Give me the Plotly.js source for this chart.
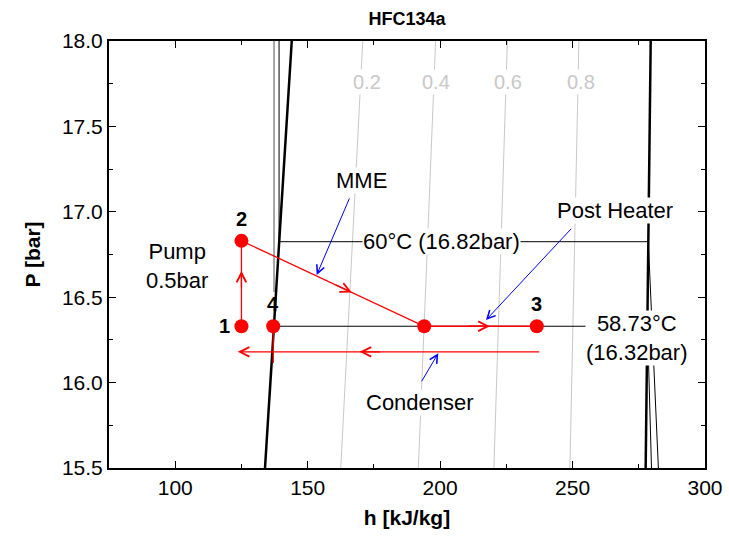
<!DOCTYPE html>
<html>
<head>
<meta charset="utf-8">
<script src="https://cdn.plot.ly/plotly-3.0.1.min.js"></script>
<style>html,body{margin:0;padding:0;background:#fff;}#chart{width:729px;height:544px;}</style>
</head>
<body>
<div id="chart"></div>
<script>
// ---- Data ----
// Saturation dome (h in kJ/kg, P in bar)
const satLiqH = [133.9, 144.0];
const satLiqP = [15.5, 18.0];
const satVapH = [277.6, 279.5];
const satVapP = [15.5, 18.0];

// Quality lines
const qualityLabels = ['0.2', '0.4', '0.6', '0.8'];
const qualityHBottom = [162.5, 191.8, 220.3, 249.0];
const qualityHTop = [170.8, 198.3, 225.4, 252.4];
const qualityLabelH = [172.4, 198.3, 225.6, 253.1];
const qualityLabelP = 17.76;

// Isotherms
const iso60LiqH = [139.2, 139.2];
const iso60LiqP = [18.0, 16.825];
const iso60H = [139.6, 278.6];
const iso60P = [16.825, 16.825];
const iso60VapH = [278.6, 282.4];
const iso60VapP = [16.825, 15.5];
const iso5873H = [137.0, 278.3];
const iso5873P = [16.33, 16.33];
const iso5873VapH = [278.3, 279.8];
const iso5873VapP = [16.33, 15.5];
const greyIsoH = [137.3, 137.3];
const greyIsoP = [18.0, 16.53];

// Cycle state points
const stateLabels = ['1', '2', '3', '4'];
const stateH = [125.0, 125.0, 236.5, 137.0];
const stateP = [16.33, 16.83, 16.33, 16.33];
const mmeOutH = [194.0];
const mmeOutP = [16.33];

// Cycle path (1 -> 2 -> MME outlet -> 3)
const pathH = [125.0, 125.0, 194.0, 236.5];
const pathP = [16.33, 16.83, 16.33, 16.33];
// state 4 drop line
const dropH = [137.0, 137.0];
const dropP = [16.33, 16.115];
// condenser return line
const condH = [238.0, 123.6];
const condP = [16.18, 16.18];

// direction chevrons: [tailH, tailP, tipH, tipP]
const chevrons = [
  [125.0, 16.55, 125.0, 16.655],
  [160.0, 16.576, 166.7, 16.528],
  [210.0, 16.33, 218.8, 16.33],
  [178.0, 16.18, 169.6, 16.18]
];

// Callout arrows: [tailH, tailP, tipH, tipP]
const callouts = [
  [166.0, 17.087, 153.4, 16.63],
  [250.0, 16.909, 217.3, 16.366],
  [192.7, 15.999, 199.3, 16.172]
];

// Text labels
const noteText = ['MME', 'Post Heater', 'Condenser', 'Pump<br>0.5bar', '60°C (16.82bar)', '58.73°C<br>(16.32bar)'];
const noteH = [170.5, 265.9, 192.4, 100.6, 200.6, 274.2];
const noteP = [17.186, 17.01, 15.886, 16.68, 16.825, 16.259];

// ---- Build traces ----
const FONT = 'Liberation Sans, Arial, sans-serif';
const traces = [];
function line(h, p, color, width) {
  traces.push({x: h, y: p, mode: 'lines', line: {color: color, width: width}, hoverinfo: 'skip', showlegend: false});
}
for (let i = 0; i < qualityLabels.length; i++) {
  line([qualityHBottom[i], qualityHTop[i]], [satLiqP[0], satLiqP[1]], '#c8c8c8', 1);
}
line(greyIsoH, greyIsoP, '#8a8a8a', 1.5);
line(iso60LiqH, iso60LiqP, '#000', 1);
line(iso60H, iso60P, '#000', 1);
line(iso60VapH, iso60VapP, '#000', 1);
line(iso5873H, iso5873P, '#000', 1);
line(iso5873VapH, iso5873VapP, '#000', 1);
line(satLiqH, satLiqP, '#000', 2.5);
line(satVapH, satVapP, '#000', 2.5);
line(pathH, pathP, '#ff0000', 1.3);
line(dropH, dropP, '#ff0000', 1.3);
traces.push({x: stateH.concat(mmeOutH), y: stateP.concat(mmeOutP), mode: 'markers',
  marker: {color: '#ff0000', size: 14}, hoverinfo: 'skip', showlegend: false});

const annotations = [];
// quality labels
for (let i = 0; i < qualityLabels.length; i++) {
  annotations.push({x: qualityLabelH[i], y: qualityLabelP, xref: 'x', yref: 'y', text: qualityLabels[i],
    showarrow: false, font: {family: FONT, size: 20, color: '#c8c8c8'}, bgcolor: '#fff', borderpad: 1});
}
// condenser line with arrowhead at the end
annotations.push({x: condH[1], y: condP[1], ax: condH[0], ay: condP[0], xref: 'x', yref: 'y', axref: 'x', ayref: 'y',
  text: '', showarrow: true, arrowhead: 5, arrowsize: 1.45, arrowwidth: 1.3, arrowcolor: '#ff0000'});
chevrons.forEach(c => annotations.push({x: c[2], y: c[3], ax: c[0], ay: c[1], xref: 'x', yref: 'y', axref: 'x', ayref: 'y',
  text: '', showarrow: true, arrowhead: 5, arrowsize: 1.45, arrowwidth: 1.3, arrowcolor: '#ff0000'}));
callouts.forEach(c => annotations.push({x: c[2], y: c[3], ax: c[0], ay: c[1], xref: 'x', yref: 'y', axref: 'x', ayref: 'y',
  text: '', showarrow: true, arrowhead: 5, arrowsize: 1.6, arrowwidth: 1, arrowcolor: '#0000ff'}));
for (let i = 0; i < noteText.length; i++) {
  annotations.push({x: noteH[i], y: noteP[i], xref: 'x', yref: 'y', text: noteText[i], showarrow: false,
    font: {family: FONT, size: 22, color: '#000'}, bgcolor: '#fff', borderpad: 0});
}
// state labels
const labelShift = [[-17, 0], [0, 22], [0, 22], [0, 22]];
for (let i = 0; i < stateLabels.length; i++) {
  annotations.push({x: stateH[i], y: stateP[i], xref: 'x', yref: 'y', text: '<b>' + stateLabels[i] + '</b>',
    showarrow: false, xshift: labelShift[i][0], yshift: labelShift[i][1], font: {family: FONT, size: 20, color: '#000'}});
}

const axisCommon = {
  showgrid: false, zeroline: false, showline: true, linecolor: '#000', linewidth: 2,
  mirror: 'allticks', ticks: 'inside', ticklen: 7, tickwidth: 1, tickcolor: '#000',
  tickfont: {family: FONT, size: 21, color: '#000'}
};
const layout = {
  width: 729, height: 544,
  margin: {l: 109, r: 24, t: 41, b: 76},
  paper_bgcolor: '#fff', plot_bgcolor: '#fff',
  showlegend: false,
  title: {text: '<b>HFC134a</b>', font: {family: FONT, size: 18, color: '#000'}, x: 0.5, xanchor: 'center', y: 0.965, yanchor: 'middle', xref: 'paper'},
  xaxis: Object.assign({}, axisCommon, {range: [75, 300], dtick: 50, tick0: 0,
    minor: {dtick: 25, ticks: 'inside', ticklen: 4, tickcolor: '#000'},
    title: {text: '<b>h [kJ/kg]</b>', font: {family: FONT, size: 21, color: '#000'}, standoff: 12}}),
  yaxis: Object.assign({}, axisCommon, {range: [15.5, 18.0], dtick: 0.5, tick0: 0, tickformat: '.1f',
    minor: {dtick: 0.25, ticks: 'inside', ticklen: 4, tickcolor: '#000'},
    title: {text: '<b>P [bar]</b>', font: {family: FONT, size: 21, color: '#000'}, standoff: 16}}),
  annotations: annotations
};
Plotly.newPlot('chart', traces, layout, {staticPlot: true});
</script>
</body>
</html>
